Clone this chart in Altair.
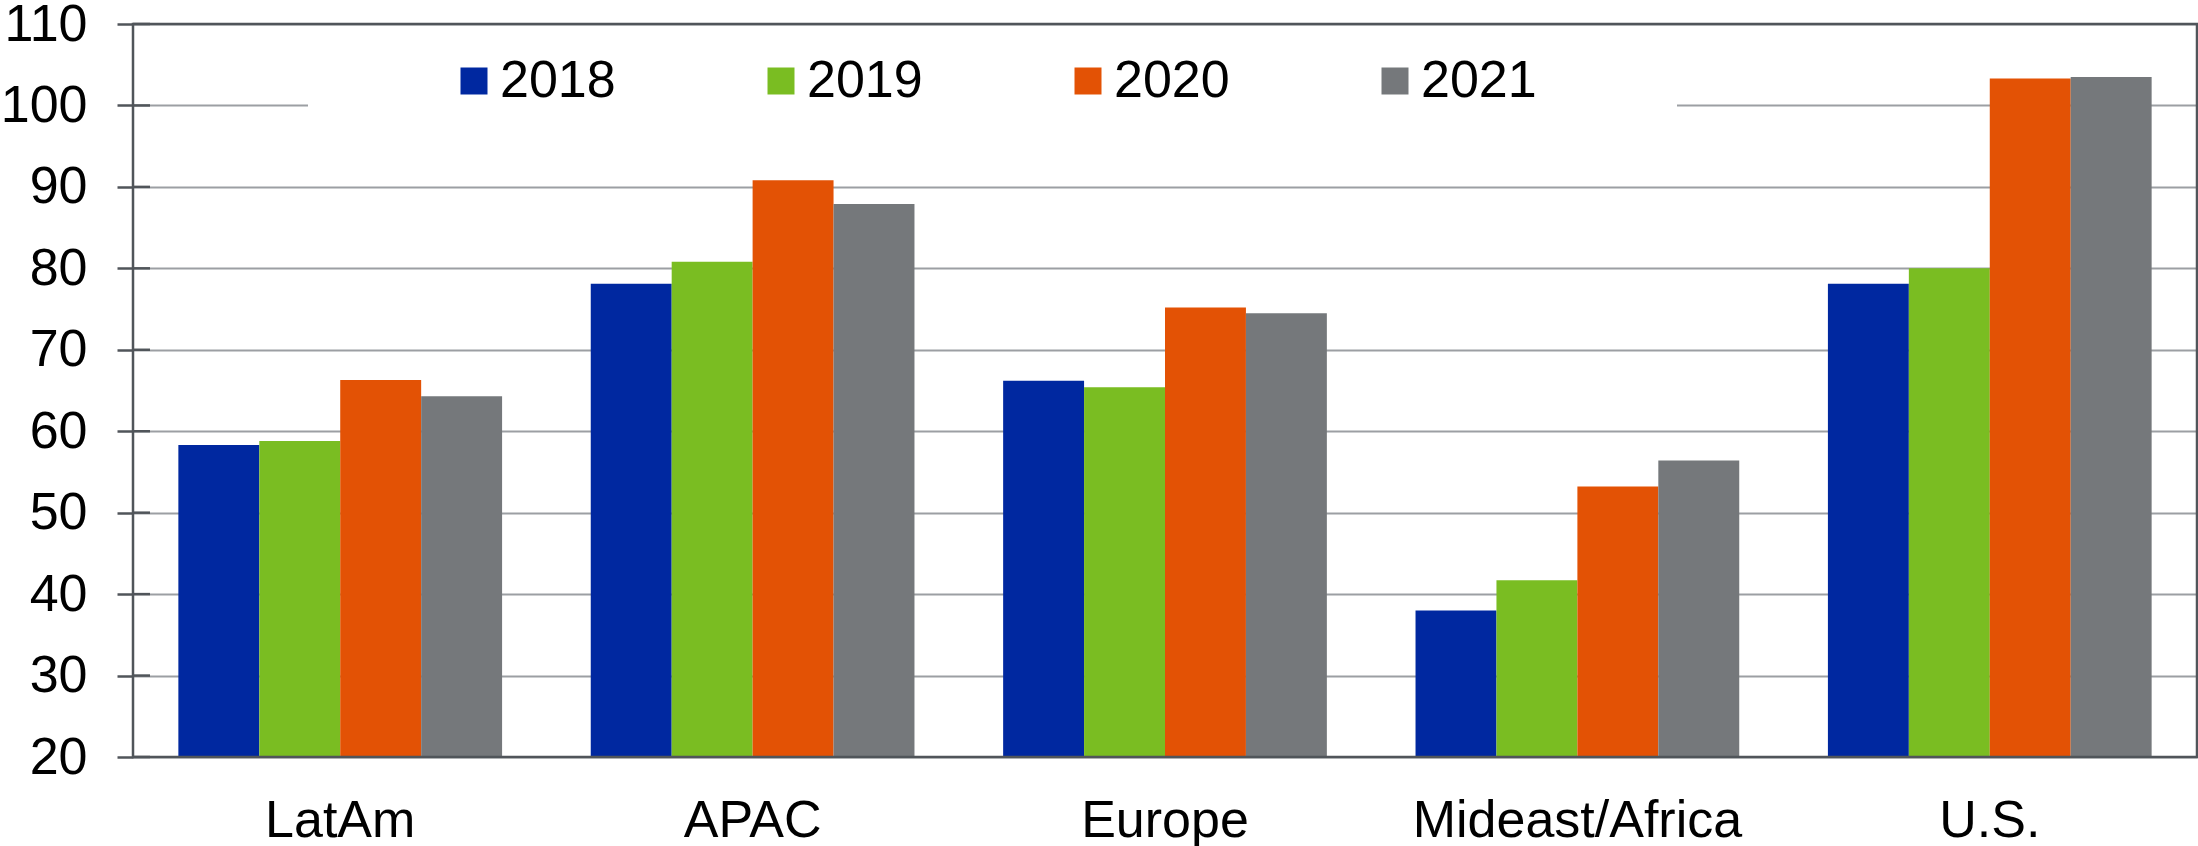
import altair as alt
import pandas as pd

regions = ["LatAm", "APAC", "Europe", "Mideast/Africa", "U.S."]
years = ["2018", "2019", "2020", "2021"]
v2018 = [58.3, 78.1, 66.2, 38.0, 78.1]
v2019 = [58.8, 80.8, 65.4, 41.7, 80.0]
v2020 = [66.3, 90.8, 75.2, 53.2, 103.3]
v2021 = [64.3, 87.9, 74.5, 56.4, 103.5]
colors = ["#0028A0", "#7ABD22", "#E35205", "#75787B"]
y_ticks = [20, 30, 40, 50, 60, 70, 80, 90, 100, 110]

series = [v2018, v2019, v2020, v2021]
rows = []
for yr, vals in zip(years, series):
    for reg, v in zip(regions, vals):
        rows.append({"region": reg, "year": yr, "value": v})
df = pd.DataFrame(rows)
ticks_df = pd.DataFrame({"t": y_ticks})

FONT = "Liberation Sans"
DARK = "#50555a"
GRID = "#9c9fa3"
W, H = 2064, 733

yscale = alt.Scale(domain=[20, 110], zero=False, nice=False)

bars = alt.Chart(df).mark_bar().encode(
    x=alt.X("region:N", sort=regions,
            scale=alt.Scale(paddingInner=0.215, paddingOuter=0.11),
            axis=alt.Axis(title=None, labelAngle=0, labelFontSize=52, labelFont=FONT,
                          labelColor="black", ticks=False, tickSize=0, domain=False,
                          labelPadding=79, labelBaseline="alphabetic", grid=False,
                          labelLimit=0)),
    xOffset=alt.XOffset("year:N", sort=years,
                        scale=alt.Scale(paddingInner=0, paddingOuter=0)),
    y=alt.Y("value:Q", scale=yscale,
            axis=alt.Axis(title=None, values=y_ticks, tickSize=16,
                          tickColor=DARK, tickWidth=2.5, domain=False,
                          grid=True, gridColor=GRID, gridWidth=2.2,
                          labelFontSize=52, labelFont=FONT, labelColor="black",
                          labelPadding=30)),
    y2=alt.datum(20),
    color=alt.Color("year:N", sort=years,
                    scale=alt.Scale(domain=years, range=colors),
                    legend=alt.Legend(title=None, orient="none", legendX=315, legendY=31,
                                      direction="horizontal", columns=4,
                                      symbolType="square", symbolSize=729,
                                      symbolStrokeWidth=0, labelFontSize=52,
                                      labelFont=FONT, labelColor="black",
                                      labelOffset=0, columnPadding=139)),
)

box = alt.Chart(pd.DataFrame({"k": [0]})).mark_rect(color="white").encode(
    x=alt.value(175), x2=alt.value(1544), y=alt.value(6), y2=alt.value(110)
)

inner_ticks = alt.Chart(ticks_df).mark_rule(color=DARK, strokeWidth=2.5).encode(
    y=alt.Y("t:Q", scale=yscale),
    x=alt.value(0), x2=alt.value(17)
)

frame = alt.Chart(pd.DataFrame({"k": [0]})).mark_rect(
    fillOpacity=0, stroke=DARK, strokeWidth=2.5
).encode(
    x=alt.value(0), x2=alt.value(W), y=alt.value(0), y2=alt.value(H)
)

chart = alt.layer(box, bars, inner_ticks, frame).properties(
    width=W, height=H,
    autosize=alt.AutoSizeParams(type="none"),
    padding={"left": 133, "top": 24, "right": 1, "bottom": 89},
).configure_view(stroke=None).configure(background="white")

chart.save("out.html", embed_options={"renderer": "svg", "actions": False})
